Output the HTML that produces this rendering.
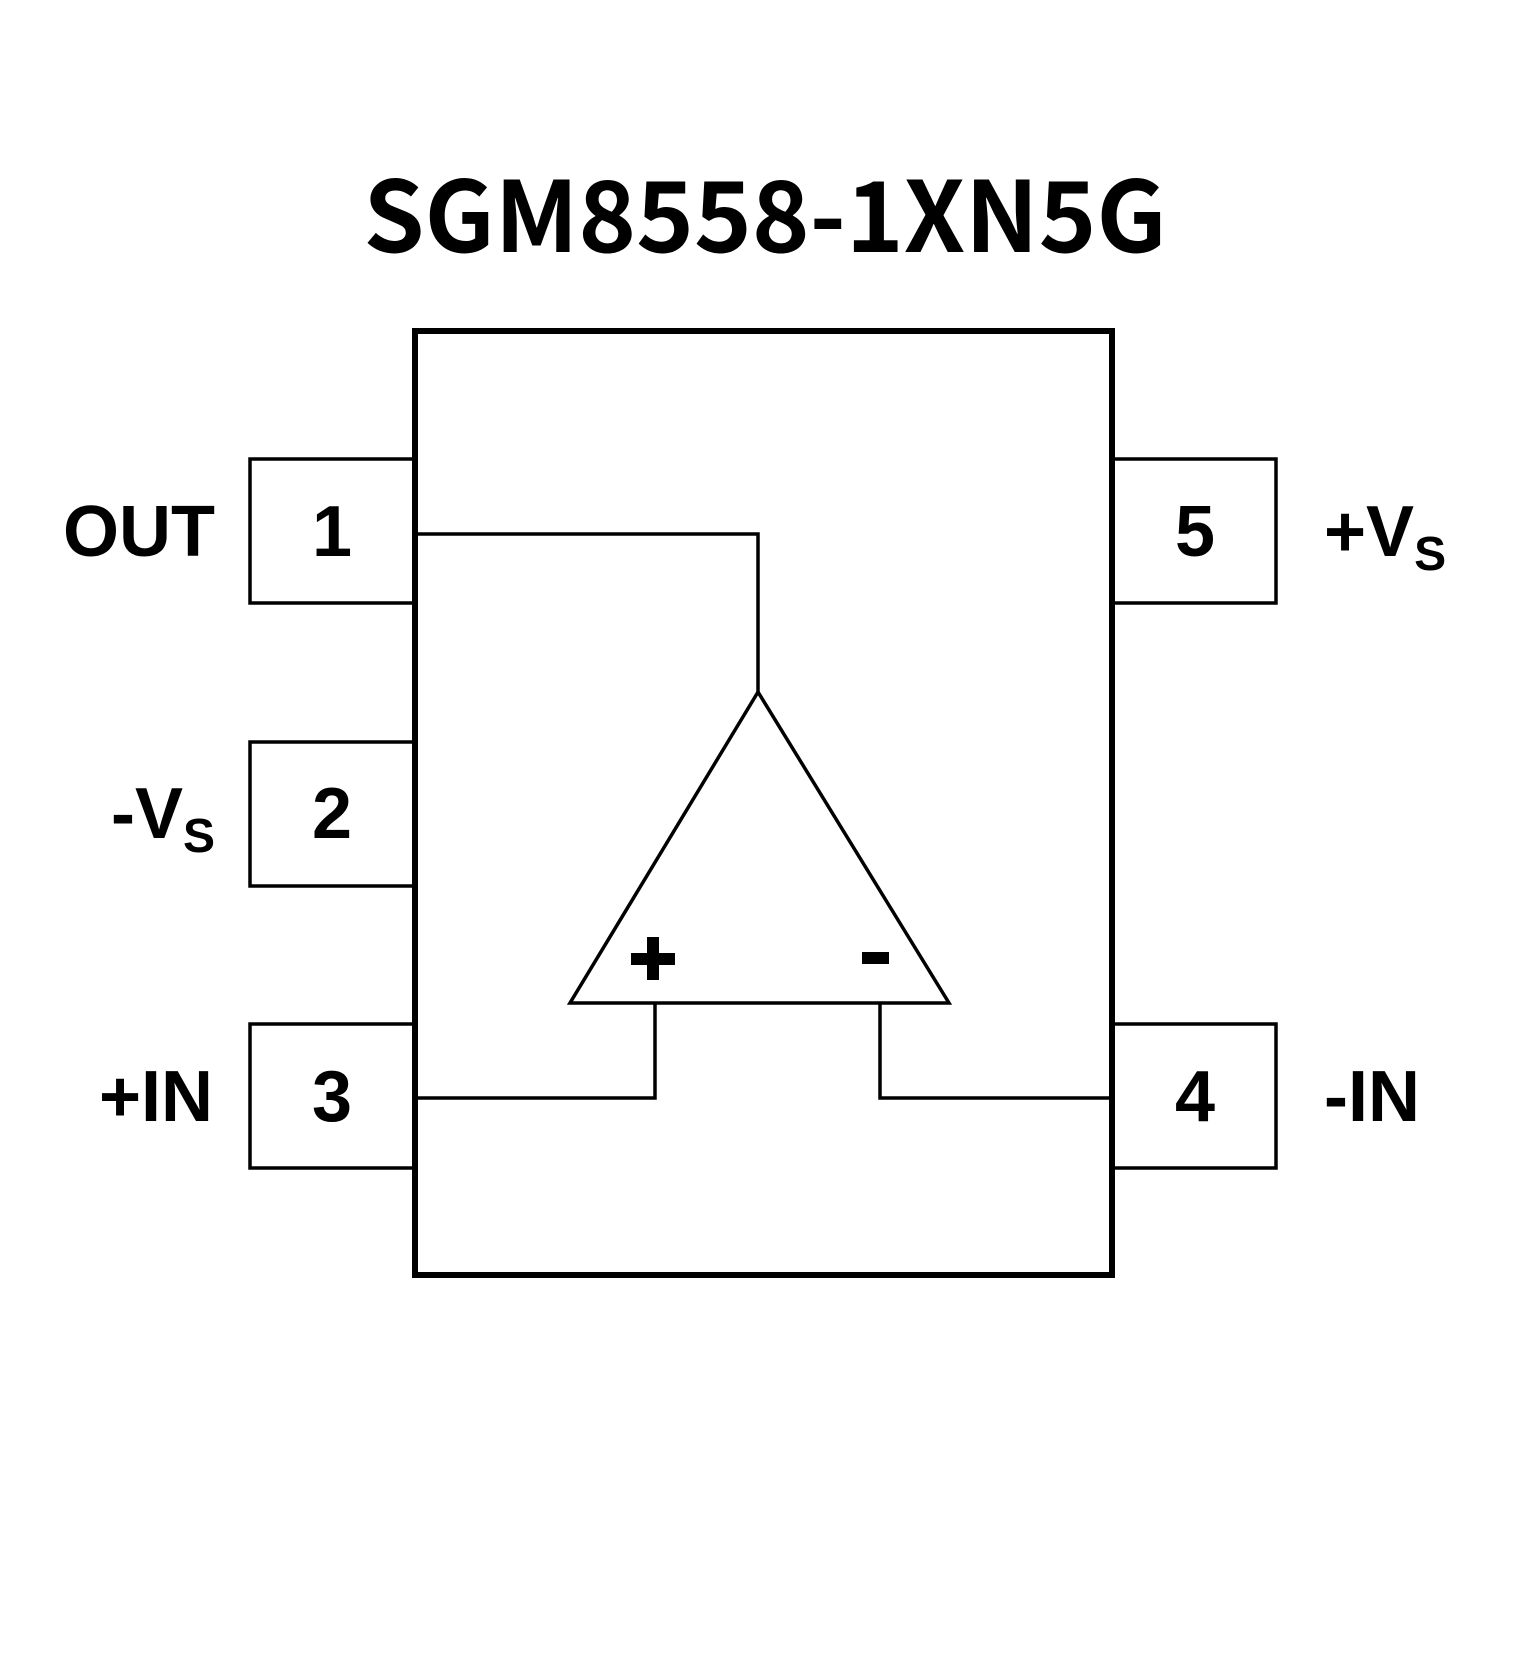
<!DOCTYPE html>
<html><head><meta charset="utf-8"><style>
html,body{margin:0;padding:0;background:#fff;}
svg{display:block}
</style></head><body>
<svg width="1535" height="1675" viewBox="0 0 1535 1675" xmlns="http://www.w3.org/2000/svg">
<rect width="1535" height="1675" fill="#fff"/>
<text x="765" y="252" text-anchor="middle" font-family="'Noto Sans CJK SC','DejaVu Sans',sans-serif" font-weight="bold" font-size="98" fill="#000">SGM8558-1XN5G</text>
<g fill="none" stroke="#000" stroke-width="3.5">
<rect x="250" y="459" width="165" height="144"/>
<rect x="250" y="742" width="165" height="144"/>
<rect x="250" y="1024" width="165" height="144"/>
<rect x="1112" y="459" width="164" height="144"/>
<rect x="1112" y="1024" width="164" height="144"/>
</g>
<rect x="415" y="331" width="697" height="944" fill="#fff" stroke="#000" stroke-width="6"/>
<g fill="none" stroke="#000" stroke-width="3.5">
<polyline points="418,534 758,534 758,692"/>
<polygon points="758,692 570,1003 949,1003"/>
<polyline points="418,1098 655,1098 655,1003"/>
<polyline points="1109,1098 880,1098 880,1003"/>
</g>
<rect x="631" y="953" width="44" height="12" fill="#000"/>
<rect x="647" y="937" width="12" height="43" fill="#000"/>
<rect x="862" y="952" width="27" height="12" fill="#000"/>
<g font-family="'Liberation Sans',Arial,sans-serif" font-weight="bold" font-size="72" fill="#000" text-anchor="middle">
<text x="332" y="556">1</text>
<text x="332" y="838">2</text>
<text x="332" y="1121">3</text>
<text x="1195" y="556">5</text>
<text x="1195" y="1121">4</text>
</g>
<g font-family="'Liberation Sans',Arial,sans-serif" font-weight="bold" font-size="72" fill="#000">
<text x="215" y="556" text-anchor="end">OUT</text>
<text x="215" y="838" text-anchor="end">-V<tspan font-size="48" dy="14">S</tspan></text>
<text x="213" y="1121" text-anchor="end">+IN</text>
<text x="1324" y="556">+V<tspan font-size="48" dy="14">S</tspan></text>
<text x="1324" y="1121">-IN</text>
</g>
</svg>
</body></html>
